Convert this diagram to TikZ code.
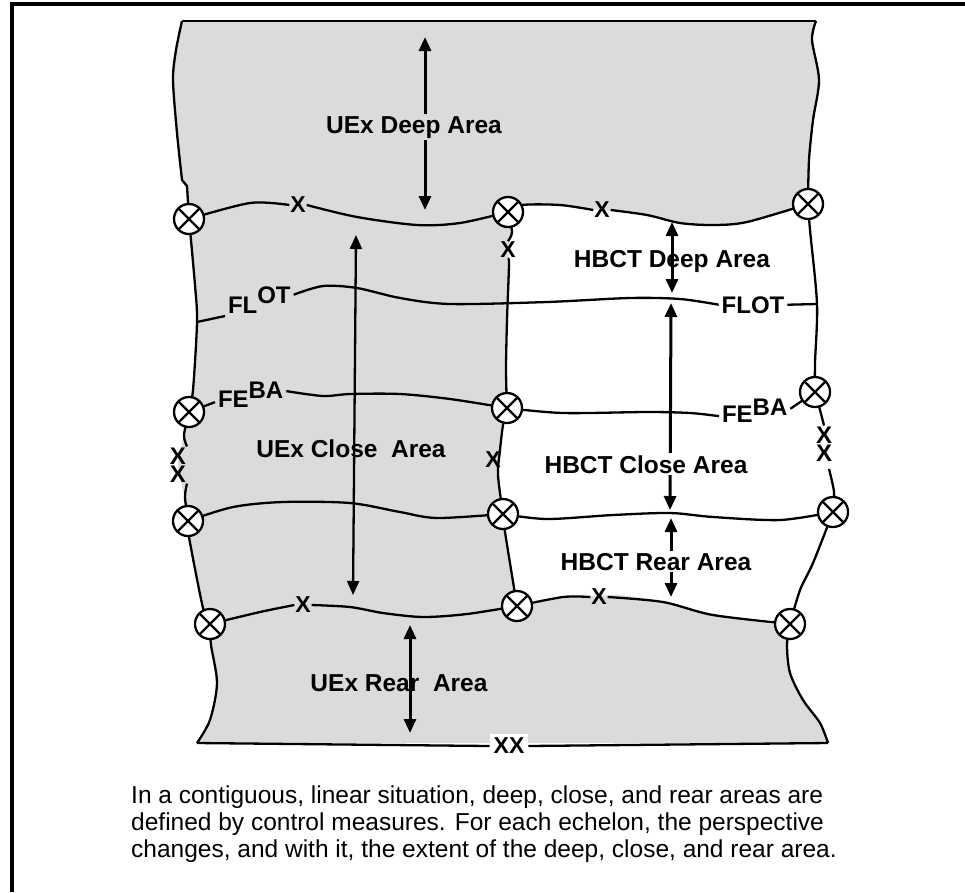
\documentclass[tikz,border=0pt]{standalone}
\usepackage{fontspec}
\setmainfont{Liberation Sans}
\usetikzlibrary{arrows.meta, calc}

\begin{document}
\begin{tikzpicture}[x=1pt, y=-1pt,
    bline/.style={line width=2.3pt, line join=round},
    ctlpt/.style={circle, draw, line width=2.3pt, fill=white, minimum size=30pt, inner sep=0pt,
      path picture={\draw[line width=2.3pt] (path picture bounding box.north west) -- (path picture bounding box.south east)
        (path picture bounding box.north east) -- (path picture bounding box.south west);}},
    lbl/.style={font=\fontsize{24}{28}\selectfont\bfseries, inner sep=0pt, outer sep=3pt},
    xmark/.style={font=\fontsize{23}{26}\selectfont\bfseries, inner sep=0pt, outer sep=1pt},
    dblx/.style={font=\fontsize{24}{18.5}\selectfont\bfseries, align=center, inner sep=0pt, outer sep=1pt},
    arealbl/.style={font=\fontsize{24.5}{28}\selectfont\bfseries, inner sep=2pt},
    dimarr/.style={{Triangle[length=14pt,width=12pt]}-{Triangle[length=14pt,width=12pt]}, line width=3pt}]
  \colorlet{areagray}{black!14}
  \useasboundingbox (0,0) rectangle (965,892);
  \draw[line width=4pt] (12,892) -- (12,4) -- (965,4);

  % corners and control points
  \coordinate (tl) at (182,21);  \coordinate (tr) at (816,21);
  \coordinate (bl) at (197,743); \coordinate (br) at (828,743);
  \coordinate (c1) at (189,219);  \coordinate (c2) at (508,212);  \coordinate (c3) at (808,204);
  \coordinate (c4) at (189,412);  \coordinate (c5) at (507,408);  \coordinate (c6) at (815,392);
  \coordinate (c7) at (188,521);  \coordinate (c8) at (503,514);  \coordinate (c9) at (833,512);
  \coordinate (c10) at (210,624); \coordinate (c11) at (517,606); \coordinate (c12) at (790,624);
  \coordinate (flotl) at (197,322); \coordinate (flotr) at (817,304);
  \coordinate (rgap) at (829,469);

  % areas
  \fill[areagray] (tl) -- (tr)
    -- plot[smooth] coordinates {(812,40) (819,80) (813,120) (809,160) (c3)}
    -- plot[smooth] coordinates {(793,210) (747,222) (713,225) (680,223) (647,215) (602,210) (560,205) (522,205) (c2)}
    -- plot[smooth] coordinates {(512,232) (508,250) (509,265) (507,320) (506,370) (c5) (503,425) (500,450) (498,475) (c8) (505,532) (c11)}
    -- plot[smooth] coordinates {(532,603) (563,597) (599,596) (620,595) (663,602) (713,615) (773,624) (c12)}
    -- plot[smooth] coordinates {(787,645) (790,673) (803,700) (820,723) (br)}
    -- (bl)
    -- plot[smooth] coordinates {(210,720) (217,683) (211,645) (c10) (203,608) (189,537) (c7) (184,495) (178,464) (184,435) (c4) (193,390) (197,322) (195,285) (c1) (187,186)}
    -- (182,180) -- plot[smooth] coordinates {(177,133) (173,80) (176,50) (tl)} -- cycle;

  % labels on the lines
  \node[xmark] (xa) at (298,205) {X};
  \node[xmark] (xb) at (602,210) {X};
  \node[xmark] (xm1) at (508,250) {X};
  \node[xmark] (xm2) at (493,460) {X};
  \node[xmark] (xr1) at (303,605) {X};
  \node[xmark] (xr2) at (599,597) {X};
  \node[dblx] (dxl) at (178,465) {X\\X};
  \node[dblx] (dxr) at (824,444) {X\\X};
  \node[xmark, fill=white, inner sep=4pt, outer sep=0pt] (xx) at (509,746) {XX};
  \node[lbl, anchor=base west] (fl1) at (225,313) {FL\raisebox{10pt}{OT}};
  \node[lbl, anchor=base] (fl2) at (753,313) {FLOT};
  \node[lbl, anchor=base west] (fe1) at (215,407) {FE\raisebox{9pt}{BA}};
  \node[lbl, anchor=base west] (fe2) at (719,422) {FE\raisebox{7pt}{BA}};
  \coordinate (fl1r) at ($(fl1.north east)!0.35!(fl1.south east)$);
  \coordinate (fe1l) at ($(fe1.south west)!0.25!(fe1.north west)$);
  \coordinate (fe1r) at ($(fe1.north east)!0.4!(fe1.south east)$);
  \coordinate (fe2l) at ($(fe2.south west)!0.3!(fe2.north west)$);
  \coordinate (fe2r) at ($(fe2.north east)!0.45!(fe2.south east)$);

  % outer edge
  \draw[bline] plot[smooth] coordinates {(tl) (176,50) (173,80) (177,133) (182,180)} -- (187,186) -- (c1);
  \draw[bline] plot[smooth] coordinates {(c1) (195,285) (flotl) (193,390) (c4)};
  \draw[bline] plot[smooth] coordinates {(c4) (184,435) (dxl.north east)};
  \draw[bline] plot[smooth] coordinates {(dxl.south east) (185,497) (c7)};
  \draw[bline] plot[smooth] coordinates {(c7) (189,537) (203,608) (c10)};
  \draw[bline] plot[smooth] coordinates {(c10) (211,645) (217,683) (210,720) (bl)};
  \draw[bline] (bl) -- (xx.west);
  \draw[bline] (xx.east) -- (br);
  \draw[bline] plot[smooth] coordinates {(br) (820,723) (803,700) (790,673) (787,645) (c12)};
  \draw[bline] plot[smooth] coordinates {(c12) (800,590) (813,563) (c9)};
  \draw[bline] plot[smooth] coordinates {(c9) (834,492) (rgap)};
  \draw[bline] plot[smooth] coordinates {(dxr.north) (820,410) (c6)};
  \draw[bline] plot[smooth] coordinates {(c6) (815,363) (flotr) (810,230) (c3)};
  \draw[bline] plot[smooth] coordinates {(c3) (809,160) (813,120) (819,80) (812,40) (tr)};
  \draw[bline] (tr) -- (tl);

  % HBCT boundary
  \draw[bline] plot[smooth] coordinates {(c2) (512,232) (xm1.north)};
  \draw[bline] plot[smooth] coordinates {(xm1.south) (509,265) (507,320) (506,370) (c5)};
  \draw[bline] plot[smooth] coordinates {(c5) (503,425) (500,450) (498,475) (c8)};
  \draw[bline] plot[smooth] coordinates {(c8) (505,532) (c11)};

  % control measures
  \draw[bline] plot[smooth] coordinates {(c1) (250,203) (xa.west)};
  \draw[bline] plot[smooth] coordinates {(xa.east) (357,217) (417,225) (460,223) (c2)};
  \draw[bline] plot[smooth] coordinates {(c2) (522,205) (560,205) (xb.west)};
  \draw[bline] plot[smooth] coordinates {(xb.east) (647,215) (680,223) (713,225) (747,222) (c3)};
  \draw[bline] (flotl) -- (fl1.south west);
  \draw[bline] plot[smooth] coordinates {(fl1r) (323,286) (357,288) (400,298) (450,304) (547,302) (630,298) (680,299) (fl2.west)};
  \draw[bline] (fl2.east) -- (flotr);
  \draw[bline] (c4) -- (fe1l);
  \draw[bline] plot[smooth] coordinates {(fe1r) (323,396) (350,394) (400,394) (450,399) (c5)};
  \draw[bline] plot[smooth] coordinates {(c5) (563,413) (647,412) (690,413) (fe2l)};
  \draw[bline] (fe2r) -- (c6);
  \draw[bline] plot[smooth] coordinates {(c7) (233,507) (283,502) (350,503) (400,512) (437,518) (c8)};
  \draw[bline] plot[smooth] coordinates {(c8) (547,519) (613,515) (670,513) (713,517) (780,520) (c9)};
  \draw[bline] plot[smooth] coordinates {(c10) (260,612) (xr1.west)};
  \draw[bline] plot[smooth] coordinates {(xr1.east) (350,607) (383,613) (423,617) (467,614) (c11)};
  \draw[bline] plot[smooth] coordinates {(c11) (563,597) (xr2.west)};
  \draw[bline] plot[smooth] coordinates {(xr2.east) (663,602) (713,615) (c12)};

  \foreach \c in {c1,c2,c3,c4,c5,c6,c7,c8,c9,c10,c11,c12}
    \node[ctlpt] (\c-pt) at (\c) {};

  % depth arrows
  \coordinate (ud1) at (425,37);  \coordinate (ud2) at (425,210);
  \coordinate (uc1) at (356,235); \coordinate (uc2) at (353,595);
  \coordinate (ur1) at (410,625); \coordinate (ur2) at (410,733);
  \coordinate (hd1) at (672,222); \coordinate (hd2) at (672,293);
  \coordinate (hc1) at (671,303); \coordinate (hc2) at (670,510);
  \coordinate (hr1) at (671,518); \coordinate (hr2) at (671,597);
  \draw[dimarr] (ud1) -- (ud2);
  \draw[dimarr, line width=2.3pt] (uc1) -- (uc2);
  \draw[dimarr] (ur1) -- (ur2);
  \draw[dimarr] (hd1) -- (hd2);
  \draw[dimarr] (hc1) -- (hc2);
  \draw[dimarr] (hr1) -- (hr2);

  \node[arealbl, anchor=base, fill=areagray] (udeep) at (414,133) {UEx Deep Area};
  \node[arealbl, anchor=base] (uclose) at (351,457) {UEx Close~~Area};
  \node[arealbl, anchor=base] (urear) at (399,691) {UEx Rear~~Area};
  \node[arealbl, anchor=base] (hdeep) at (672,267) {HBCT Deep Area};
  \node[arealbl, anchor=base, fill=white] (hclose) at (646,473) {HBCT Close Area};
  \node[arealbl, anchor=base, fill=white] (hrear) at (656,570) {HBCT Rear Area};

  \node[anchor=north west, align=left, inner sep=0pt, font=\fontsize{24.5}{27}\selectfont] (note) at (131,786)
    {In a contiguous, linear situation, deep, close, and rear areas are\\
     defined by control measures. For each echelon, the perspective\\
     changes, and with it, the extent of the deep, close, and rear area.};
\end{tikzpicture}
\end{document}
